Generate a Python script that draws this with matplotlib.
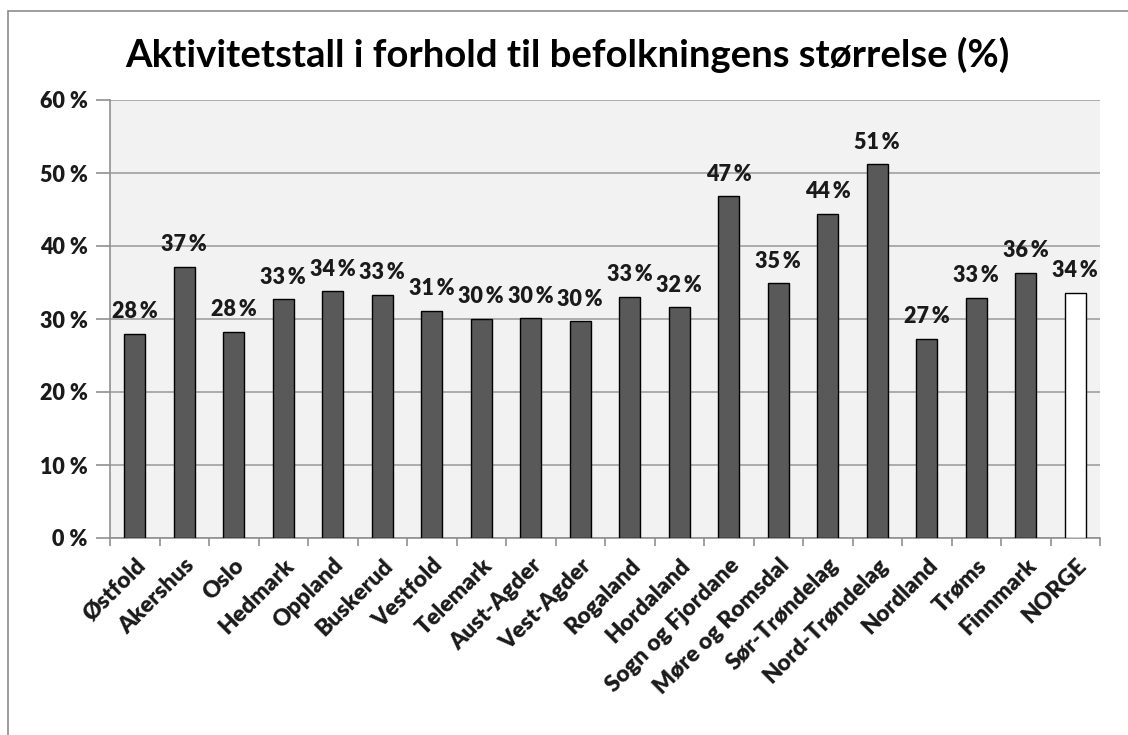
import matplotlib.pyplot as plt
from matplotlib.patches import Rectangle

plt.rcParams['font.family'] = ['Lato', 'DejaVu Sans']

fylker = ["Østfold", "Akershus", "Oslo", "Hedmark", "Oppland", "Buskerud",
          "Vestfold", "Telemark", "Aust-Agder", "Vest-Agder", "Rogaland",
          "Hordaland", "Sogn og Fjordane", "Møre og Romsdal", "Sør-Trøndelag",
          "Nord-Trøndelag", "Nordland", "Trøms", "Finnmark", "NORGE"]
aktivitet = [28.0, 37.1, 28.2, 32.7, 33.8, 33.3, 31.1, 30.0, 30.1, 29.7,
             33.0, 31.6, 46.8, 34.9, 44.4, 51.2, 27.3, 32.9, 36.3, 33.6]
y_ticks = [0, 10, 20, 30, 40, 50, 60]

fig = plt.figure(figsize=(11.28, 7.35), dpi=100)
ax = fig.add_axes([110 / 1128, 1 - 538 / 735, 990 / 1128, 438 / 735])

farger = ["#595959"] * (len(fylker) - 1) + ["white"]
x = range(len(fylker))
bars = ax.bar(x, aktivitet, width=0.43, color=farger, edgecolor="black",
              linewidth=1.0, zorder=3)

for b, v in zip(bars, aktivitet):
    ax.text(b.get_x() + b.get_width() / 2, v + 1.6, f"{round(v)}\u2009%",
            ha="center", va="bottom", fontsize=15.5, fontweight="heavy",
            color="#1a1a1a")

ax.set_xlim(-0.5, len(fylker) - 0.5)
ax.set_ylim(0, 60)
ax.set_facecolor("#f2f2f2")
ax.set_yticks(y_ticks)
ax.set_yticklabels([f"{t} %" for t in y_ticks], fontsize=15.5, fontweight="heavy",
                   color="#1a1a1a")
ax.yaxis.grid(True, color="#a0a0a0", linewidth=1.2, zorder=0)

ax.set_xticks(list(x))
ax.set_xticklabels(fylker, rotation=45, ha="right", va="top",
                   rotation_mode="anchor", fontsize=16.5, fontweight="heavy",
                   color="#1a1a1a")
ax.set_xticks([i - 0.5 for i in range(len(fylker) + 1)], minor=True)
ax.tick_params(axis="x", which="major", length=0, pad=12)
ax.tick_params(axis="x", which="minor", length=6, color="#909090", width=1.2)
ax.tick_params(axis="y", length=10, color="#909090", width=1.2, pad=6)

for side in ["top", "right"]:
    ax.spines[side].set_visible(False)
for side in ["left", "bottom"]:
    ax.spines[side].set_color("#909090")
    ax.spines[side].set_linewidth(1.2)

fig.suptitle("Aktivitetstall i forhold til befolkningens størrelse (%)",
             x=0.503, y=1 - 55 / 735, va="center", fontsize=27.5, fontweight="bold")

fig.patches.append(Rectangle((8 / 1128, -0.05), 1.1, 1 - 11 / 735 + 0.05,
                             transform=fig.transFigure, fill=False,
                             edgecolor="#8c8c8c", linewidth=1.2))

fig.savefig("out.png", dpi=100)
